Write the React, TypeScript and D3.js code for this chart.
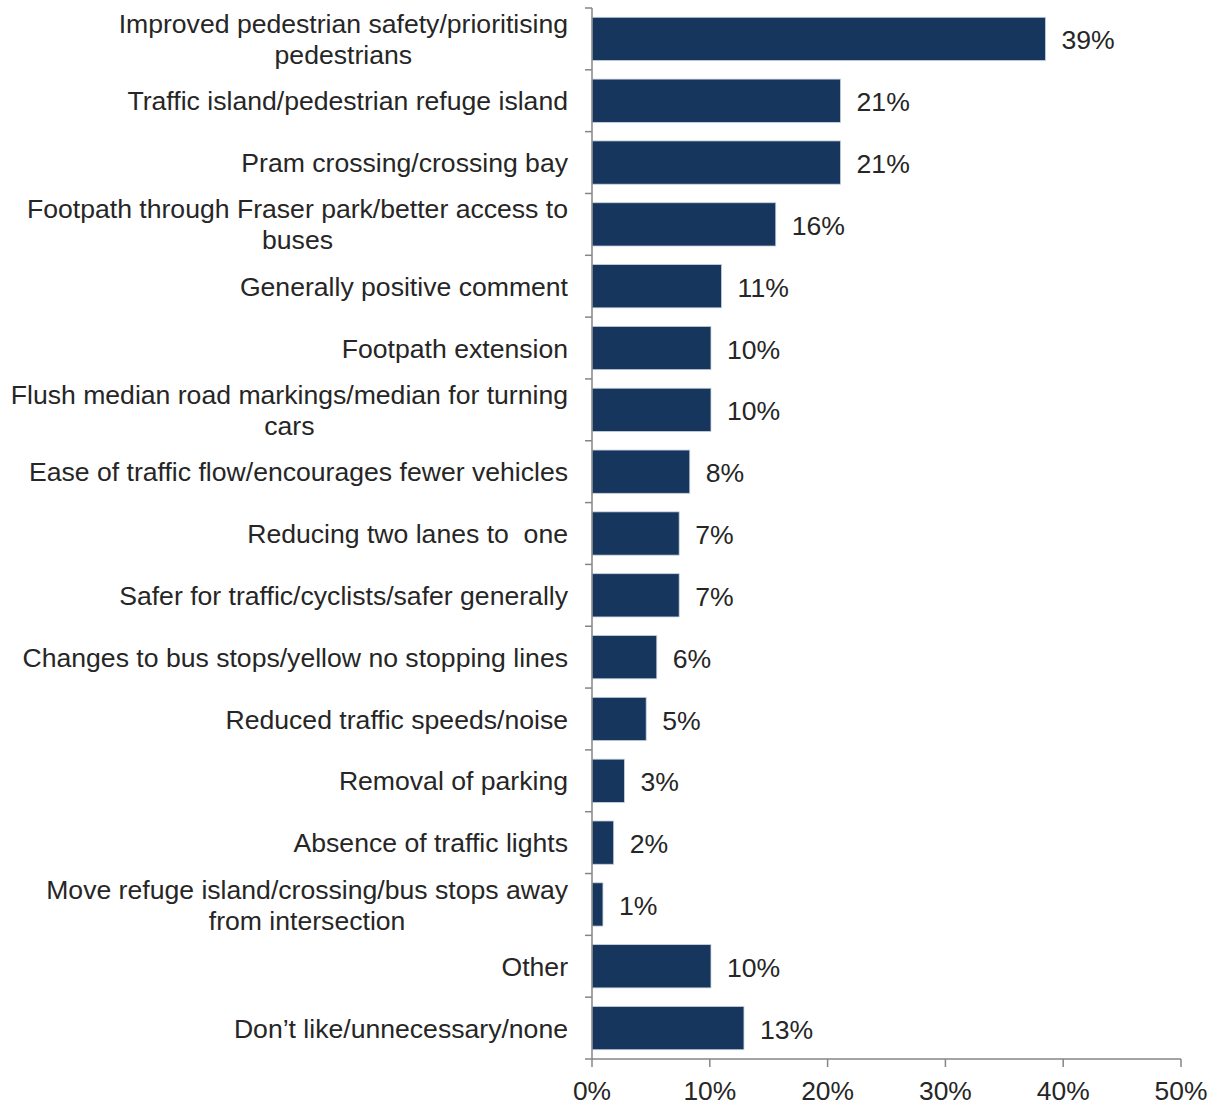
import React, { useMemo } from "react";
import * as d3 from "d3";

// Survey responses: what people liked about the proposed changes
const categories: string[] = [
  "Improved pedestrian safety/prioritising\npedestrians",
  "Traffic island/pedestrian refuge island",
  "Pram crossing/crossing bay",
  "Footpath through Fraser park/better access to\nbuses",
  "Generally positive comment",
  "Footpath extension",
  "Flush median road markings/median for turning\ncars",
  "Ease of traffic flow/encourages fewer vehicles",
  "Reducing two lanes to  one",
  "Safer for traffic/cyclists/safer generally",
  "Changes to bus stops/yellow no stopping lines",
  "Reduced traffic speeds/noise",
  "Removal of parking",
  "Absence of traffic lights",
  "Move refuge island/crossing/bus stops away\nfrom intersection",
  "Other",
  "Don\u2019t like/unnecessary/none",
];

// Share of respondents (fractions); labels show them rounded to whole percents
const shares: number[] = [
  0.385, 0.211, 0.211, 0.156, 0.11, 0.101, 0.101, 0.083, 0.074, 0.074,
  0.055, 0.046, 0.0275, 0.0184, 0.0093, 0.101, 0.129,
];

const xTickValues: number[] = [0, 0.1, 0.2, 0.3, 0.4, 0.5];

const WIDTH = 1217;
const HEIGHT = 1104;
const FONT_FAMILY = "'Liberation Sans', Arial, Helvetica, sans-serif";
const LABEL_SIZE = 26.6;
const VALUE_SIZE = 26.6;
const AXIS_SIZE = 26.4;
const TEXT_COLOR = "#262626";
const AXIS_COLOR = "#868686";
const BAR_COLOR = "#17365d";

const fmt = d3.format(".0%");

export default function App() {
  const x = d3.scaleLinear().domain([0, 0.5]).range([592, 1181]);
  const y = d3
    .scaleBand<string>()
    .domain(categories)
    .range([8, 1059])
    .paddingInner(0.3)
    .paddingOuter(0.15);
  const step = y.step();
  const axisY = 1059;

  // Measure label lines so multi-line labels can be centred as a right-aligned block
  const measure = useMemo(() => {
    const canvas = document.createElement("canvas");
    const ctx = canvas.getContext("2d")!;
    ctx.font = `${LABEL_SIZE}px ${FONT_FAMILY}`;
    return (s: string) => ctx.measureText(s).width;
  }, []);

  const labelRight = 568;
  const lineHeight = 31;

  return (
    <svg
      width={WIDTH}
      height={HEIGHT}
      style={{ position: "absolute", left: 0, top: 0, background: "#fff" }}
      fontFamily={FONT_FAMILY}
    >
      {/* bars */}
      {categories.map((c, i) => (
        <rect
          key={c}
          x={x(0)}
          y={y(c)!}
          width={x(shares[i]) - x(0)}
          height={y.bandwidth()}
          fill={BAR_COLOR}
          stroke="#c9d2de"
          strokeWidth={0.8}
        />
      ))}

      {/* value labels */}
      {categories.map((c, i) => (
        <text
          key={c}
          x={x(shares[i]) + 16}
          y={y(c)! + y.bandwidth() / 2 + 1}
          dy="0.36em"
          fontSize={VALUE_SIZE}
          fill={TEXT_COLOR}
        >
          {fmt(shares[i])}
        </text>
      ))}

      {/* category labels */}
      {categories.map((c) => {
        const lines = c.split("\n");
        const maxW = Math.max(...lines.map(measure));
        const cx = labelRight - maxW / 2;
        const mid = y(c)! + y.bandwidth() / 2;
        const firstCenter = mid - ((lines.length - 1) * lineHeight) / 2;
        return (
          <text
            key={c}
            fontSize={LABEL_SIZE}
            fill={TEXT_COLOR}
            textAnchor={lines.length > 1 ? "middle" : "end"}
            style={{ whiteSpace: "pre" }}
          >
            {lines.map((ln, k) => (
              <tspan
                key={k}
                x={lines.length > 1 ? cx : labelRight}
                y={firstCenter + k * lineHeight}
                dy="0.36em"
              >
                {ln}
              </tspan>
            ))}
          </text>
        );
      })}

      {/* vertical axis with ticks at category boundaries */}
      <line x1={x(0)} x2={x(0)} y1={8} y2={axisY} stroke={AXIS_COLOR} strokeWidth={1.5} />
      {d3.range(categories.length + 1).map((k) => (
        <line
          key={k}
          x1={x(0) - 7}
          x2={x(0)}
          y1={8 + k * step}
          y2={8 + k * step}
          stroke={AXIS_COLOR}
          strokeWidth={1.5}
        />
      ))}

      {/* horizontal axis */}
      <line x1={x(0)} x2={x(0.5)} y1={axisY} y2={axisY} stroke={AXIS_COLOR} strokeWidth={1.5} />
      {xTickValues.map((t) => (
        <g key={t}>
          <line
            x1={x(t)}
            x2={x(t)}
            y1={axisY}
            y2={axisY + 8}
            stroke={AXIS_COLOR}
            strokeWidth={1.5}
          />
          <text
            x={x(t)}
            y={1099.5}
            textAnchor="middle"
            fontSize={AXIS_SIZE}
            fill={TEXT_COLOR}
          >
            {fmt(t)}
          </text>
        </g>
      ))}
    </svg>
  );
}
